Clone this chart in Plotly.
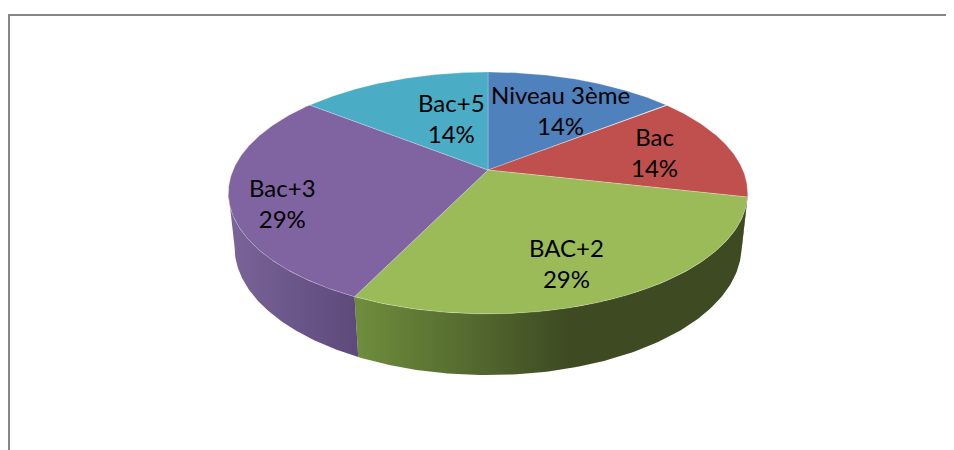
import numpy as np
import plotly.graph_objects as go

# ---- data ----
labels = ["Niveau 3ème", "Bac", "BAC+2", "Bac+3", "Bac+5"]
values = [1, 1, 2, 2, 1]
top_colors = ["#4F81BD", "#C0504D", "#9BBB59", "#8064A2", "#4BACC6"]
side_light = ["#3d6797", "#8f3a38", "#6f8e3d", "#7a6499", "#3a8aa0"]
side_dark = ["#2f4f75", "#7a302e", "#3d4a22", "#5d497a", "#2d6d7e"]

# ---- label placement (layout) ----
label_r = [0.65, 0.69, 0.74, 0.81, 0.51]
label_shift = [3.1, -0.4, 4.5, -6.4, 8.1]

# ---- projection (3D tilted pie with perspective) ----
CX, CY = 488, 170
F, D, TILT, H = 1193.0, 4.68, np.radians(27.2), 0.24
S, C = np.sin(TILT), np.cos(TILT)

# page body has an 8px margin on the top/left
PAD = 8
W, HT = 954 - PAD, 450 - PAD


def proj(r, theta_deg, z=0.0):
    th = np.radians(theta_deg)
    u = r * np.sin(th)
    v = r * np.cos(th)
    yup = v * S + z * C
    depth = D + v * C - z * S
    return CX + F * u / depth, CY - F * yup / depth


total = sum(values)
bounds = np.concatenate([[0], np.cumsum(values)]) / total * 360.0

fig = go.Figure()

# side walls (front visible part)
VIS0, VIS1 = 100.5, 259.5
for i in range(len(values)):
    a0, a1 = max(bounds[i], VIS0), min(bounds[i + 1], VIS1)
    if a1 <= a0:
        continue
    ang = np.linspace(a0, a1, 120)
    xt, yt = proj(1.0, ang, 0.0)
    xb, yb = proj(1.0, ang[::-1], -H)
    xs = np.concatenate([xt, xb, xt[:1]])
    ys = np.concatenate([yt, yb, yt[:1]])
    if i == 2:
        cs = [[0, side_light[i]], [0.55, side_dark[i]], [1, side_dark[i]]]
    else:
        cs = [[0, side_light[i]], [1, side_dark[i]]]
    fig.add_trace(go.Scatter(
        x=xs, y=ys, mode="lines", fill="toself",
        line=dict(width=0), fillcolor=side_dark[i],
        fillgradient=dict(type="horizontal", colorscale=cs,
                          start=float(xs.min()), stop=float(xs.max())),
        hoverinfo="skip", showlegend=False))

# top faces
for i in range(len(values)):
    ang = np.linspace(bounds[i], bounds[i + 1], 200)
    xa, ya = proj(1.0, ang, 0.0)
    x0, y0 = proj(0.0, 0.0, 0.0)
    xs = np.concatenate([[x0], xa, [x0]])
    ys = np.concatenate([[y0], ya, [y0]])
    fig.add_trace(go.Scatter(
        x=xs, y=ys, mode="lines", fill="toself",
        line=dict(width=0.6, color="rgba(255,255,255,0.4)"),
        fillcolor=top_colors[i], hoverinfo="skip", showlegend=False))

# labels
for i in range(len(values)):
    mid = (bounds[i] + bounds[i + 1]) / 2 + label_shift[i]
    lx, ly = proj(label_r[i], mid, 0.0)
    pct = f"{round(values[i] / total * 100)}%"
    fig.add_annotation(x=float(lx), y=float(ly), text=f"{labels[i]}<br>{pct}",
                       showarrow=False, xanchor="center", yanchor="middle",
                       font=dict(family="Lato", size=24, color="#000000"))

fig.update_layout(
    width=W, height=HT,
    margin=dict(l=0, r=0, t=0, b=0),
    paper_bgcolor="white", plot_bgcolor="white",
    xaxis=dict(range=[PAD, PAD + W], visible=False, fixedrange=True),
    yaxis=dict(range=[PAD + HT, PAD], visible=False, fixedrange=True),
    hovermode=False,
    shapes=[
        dict(type="line", xref="x", yref="y", x0=8, y0=15, x1=PAD + W, y1=15,
             line=dict(color="#878787", width=2)),
        dict(type="line", xref="x", yref="y", x0=9, y0=15, x1=9, y1=PAD + HT,
             line=dict(color="#878787", width=2)),
    ],
)

fig.write_html("out.html")
